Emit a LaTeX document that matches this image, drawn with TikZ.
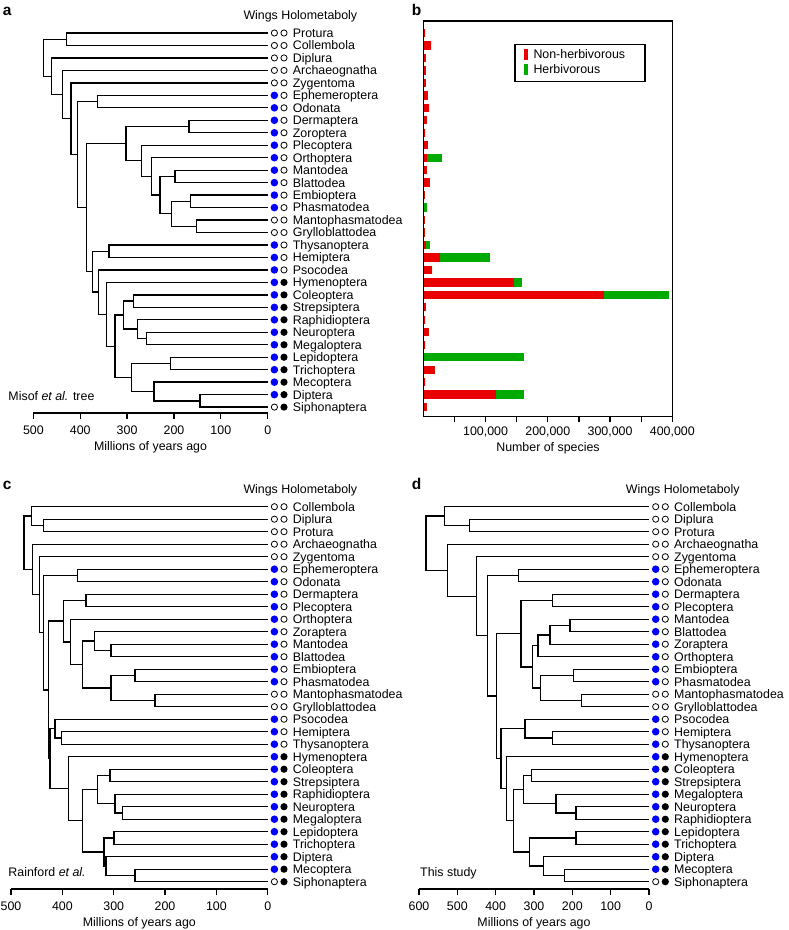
\documentclass[tikz,border=0pt]{standalone}
\usepackage{fontspec}
\setmainfont{Liberation Sans}
\usetikzlibrary{calc}

\definecolor{nonherb}{RGB}{235,0,0}
\definecolor{herb}{RGB}{0,170,0}
\definecolor{wingblue}{RGB}{0,0,255}

\newcommand{\figfont}{\fontsize{12.4}{14}\selectfont}
\newcommand{\panelfont}{\fontsize{15.5}{17}\selectfont\bfseries}

% tips of one tree: prefix, list of taxon/wings/holometaboly
\newcommand{\tips}[2]{%
  \foreach \tx/\w/\h [count=\i] in {#2} {
    \coordinate (#1\tx) at (\tipx, {\rowy+(\i-1)*\rowdy});
    \node[wings\w] (#1\tx-w) at ([xshift=6.7pt]#1\tx) {};
    \node[holo\h] (#1\tx-h) at ([xshift=16.3pt]#1\tx) {};
    \node[taxon] (#1\tx-l) at ([xshift=25pt,yshift=-4.4pt]#1\tx) {\tx};
  }%
}
% internal node: name, age (Ma), two children
\newcommand{\clade}[4]{%
  \pgfmathsetmacro\cx{\tipx-#2*\tscale}%
  \path let \p1=($(#3)!.5!(#4)$) in (\cx pt,\y1) coordinate (#1);
  \draw[branch] (#1) |- (#3) (#1) |- (#4);
}
% time axis: prefix, oldest tick, y
\newcommand{\ageaxis}[3]{%
  \draw[axisline] ({\tipx-#2*\tscale},#3) -- (\tipx,#3);
  \foreach \m in {0,100,...,#2} {
    \draw[axisline] ({\tipx-\m*\tscale},#3) -- ++(0,6);
    \node[ticklab] (#1t\m) at ({\tipx-\m*\tscale},#3+21.4) {\m};
  }%
  \node[ticklab] (#1xlab) at ({\tipx-#2*\tscale/2},#3+37) {Millions of years ago};
}

\begin{document}
\begin{tikzpicture}[x=1pt, y=-1pt,
  branch/.style={line width=1.35pt},
  axisline/.style={line width=1.2pt},
  frame/.style={line width=1.2pt},
  opendot/.style={circle, draw, line width=0.8pt, minimum size=6.2pt, inner sep=0pt},
  wings0/.style={opendot},
  wings1/.style={circle, fill=wingblue, minimum size=7.6pt, inner sep=0pt},
  holo0/.style={opendot},
  holo1/.style={circle, fill=black, minimum size=7.2pt, inner sep=0pt},
  taxon/.style={anchor=base west, inner sep=0pt, font=\figfont},
  ticklab/.style={anchor=base, inner sep=0pt, font=\figfont},
  panel/.style={anchor=base west, inner sep=0pt, font=\panelfont}
]
\useasboundingbox (0,0) rectangle (788,930);

% a: Misof et al.
\def\tipx{267.7}\def\tscale{0.4687}\def\rowy{33}\def\rowdy{12.47}
\node[panel] (apanel) at (2.7,15) {a};
\node[taxon] (ahead) at (243.3,19.3) {Wings Holometaboly};
\tips{a}{Protura/0/0, Collembola/0/0, Diplura/0/0, Archaeognatha/0/0, Zygentoma/0/0,
  Ephemeroptera/1/0, Odonata/1/0, Dermaptera/1/0, Zoroptera/1/0, Plecoptera/1/0,
  Orthoptera/1/0, Mantodea/1/0, Blattodea/1/0, Embioptera/1/0, Phasmatodea/1/0,
  Mantophasmatodea/0/0, Grylloblattodea/0/0, Thysanoptera/1/0, Hemiptera/1/0, Psocodea/1/0,
  Hymenoptera/1/1, Coleoptera/1/1, Strepsiptera/1/1, Raphidioptera/1/1, Neuroptera/1/1,
  Megaloptera/1/1, Lepidoptera/1/1, Trichoptera/1/1, Mecoptera/1/1, Diptera/1/1, Siphonaptera/0/1}
\clade{aProCol}{429}{aProtura}{aCollembola}
\clade{aDermZor}{168}{aDermaptera}{aZoroptera}
\clade{aMantBlatt}{198}{aMantodea}{aBlattodea}
\clade{aEmbPhas}{164.3}{aEmbioptera}{aPhasmatodea}
\clade{aMantGryl}{151.5}{aMantophasmatodea}{aGrylloblattodea}
\clade{aEPMG}{205}{aEmbPhas}{aMantGryl}
\clade{aDicRest}{230}{aMantBlatt}{aEPMG}
\clade{aOrthRest}{247.5}{aOrthoptera}{aDicRest}
\clade{aPlecRest}{269}{aPlecoptera}{aOrthRest}
\clade{aPolyneo}{302}{aDermZor}{aPlecRest}
\clade{aThyHem}{338.6}{aThysanoptera}{aHemiptera}
\clade{aColStrep}{286.8}{aColeoptera}{aStrepsiptera}
\clade{aNeurMeg}{258.2}{aNeuroptera}{aMegaloptera}
\clade{aNeuropt}{277.4}{aRaphidioptera}{aNeurMeg}
\clade{aColNeur}{308}{aColStrep}{aNeuropt}
\clade{aLepTri}{207}{aLepidoptera}{aTrichoptera}
\clade{aDipSiph}{144.4}{aDiptera}{aSiphonaptera}
\clade{aAntlio}{242.6}{aMecoptera}{aDipSiph}
\clade{aMecopt}{290.2}{aLepTri}{aAntlio}
\clade{aAparag}{325.8}{aColNeur}{aMecopt}
\clade{aHolomet}{343.5}{aHymenoptera}{aAparag}
\clade{aPsocHolo}{361.4}{aPsocodea}{aHolomet}
\clade{aEumet}{373.4}{aThyHem}{aPsocHolo}
\clade{aNeopt}{386.2}{aPolyneo}{aEumet}
\clade{aEphOdo}{362.7}{aEphemeroptera}{aOdonata}
\clade{aPteryg}{405.4}{aEphOdo}{aNeopt}
\clade{aDicond}{419.7}{aZygentoma}{aPteryg}
\clade{aInsect}{438.2}{aArchaeognatha}{aDicond}
\clade{aEnto}{460.9}{aDiplura}{aInsect}
\clade{aRoot}{478.8}{aProCol}{aEnto}
\node[taxon] (aname) at (8.3,400.7) {Misof \textit{et al.} tree};
\ageaxis{a}{500}{413}

% b: species numbers
\node[panel] (bpanel) at (411.7,15) {b};
\foreach \nh/\hb [count=\i] in {3.5/0, 12.4/0, 4.3/0, 3.7/0, 3.7/0, 7/0, 9.6/0, 5.4/0, 3.2/0, 7/0,
    5.4/24, 5.4/0, 10.7/0, 2.7/0, 0/6.4, 2.7/0, 2.7/0, 4.3/6.4, 26.8/80.2, 14.5/0,
    145.7/12.8, 290/104, 3.7/0, 3.2/0, 9.1/0, 3.2/0, 0/161.7, 18.2/0, 3.2/0, 116.7/45, 5.4/0} {
  \pgfmathsetmacro\by{33+(\i-1)*12.47}
  \fill[nonherb] (423.3,\by-4.15) rectangle ++({\nh*0.6225},8.3);
  \fill[herb] ({423.3+\nh*0.6225},\by-4.15) rectangle ++({\hb*0.6225},8.3);
}
\draw[frame] (423.3,21) rectangle (672.7,416.7);
\foreach \k in {50,100,...,400}
  \draw[axisline] ({423.3+\k*0.6225},416.7) -- ++(0,5);
\foreach \k in {100,200,300,400}
  \node[ticklab] (bt\k) at ({423.3+\k*0.6225},435.4) {\k,000};
\node[ticklab] (bxlab) at (548,451) {Number of species};
\draw[frame] (515,44.3) rectangle (645,81.7);
\fill[nonherb] (524,49) rectangle (528,60);
\fill[herb] (524,64) rectangle (528,75);
\node[taxon] (bnonherb) at (533.3,58.3) {Non-herbivorous};
\node[taxon] (bherb) at (533.3,73.3) {Herbivorous};

% c: Rainford et al.
\def\tipx{267.7}\def\tscale{0.5133}\def\rowy{506.7}\def\rowdy{12.5}
\node[panel] (cpanel) at (2.7,489.3) {c};
\node[taxon] (chead) at (243.3,493.7) {Wings Holometaboly};
\tips{c}{Collembola/0/0, Diplura/0/0, Protura/0/0, Archaeognatha/0/0, Zygentoma/0/0,
  Ephemeroptera/1/0, Odonata/1/0, Dermaptera/1/0, Plecoptera/1/0, Orthoptera/1/0,
  Zoraptera/1/0, Mantodea/1/0, Blattodea/1/0, Embioptera/1/0, Phasmatodea/1/0,
  Mantophasmatodea/0/0, Grylloblattodea/0/0, Psocodea/1/0, Hemiptera/1/0, Thysanoptera/1/0,
  Hymenoptera/1/1, Coleoptera/1/1, Strepsiptera/1/1, Raphidioptera/1/1, Neuroptera/1/1,
  Megaloptera/1/1, Lepidoptera/1/1, Trichoptera/1/1, Diptera/1/1, Mecoptera/1/1, Siphonaptera/0/1}
\clade{cDiPr}{437.2}{cDiplura}{cProtura}
\clade{cEnto}{459.8}{cCollembola}{cDiPr}
\clade{cEphOdo}{370}{cEphemeroptera}{cOdonata}
\clade{cDermPlec}{354}{cDermaptera}{cPlecoptera}
\clade{cMantBlatt}{305.3}{cMantodea}{cBlattodea}
\clade{cZorMB}{337.8}{cZoraptera}{cMantBlatt}
\clade{cEmbPhas}{258.5}{cEmbioptera}{cPhasmatodea}
\clade{cMantGryl}{219.6}{cMantophasmatodea}{cGrylloblattodea}
\clade{cEPMG}{305}{cEmbPhas}{cMantGryl}
\clade{cZMBEPMG}{360.4}{cZorMB}{cEPMG}
\clade{cOrthRest}{383.8}{cOrthoptera}{cZMBEPMG}
\clade{cPolyneo}{398}{cDermPlec}{cOrthRest}
\clade{cHemThy}{401.3}{cHemiptera}{cThysanoptera}
\clade{cParaneo}{414.4}{cPsocodea}{cHemThy}
\clade{cColStrep}{307.2}{cColeoptera}{cStrepsiptera}
\clade{cNeurMeg}{283.3}{cNeuroptera}{cMegaloptera}
\clade{cNeuropt}{297.5}{cRaphidioptera}{cNeurMeg}
\clade{cColNeur}{332}{cColStrep}{cNeuropt}
\clade{cLepTri}{299.4}{cLepidoptera}{cTrichoptera}
\clade{cMecSiph}{258.5}{cMecoptera}{cSiphonaptera}
\clade{cAntlio}{315}{cDiptera}{cMecSiph}
\clade{cMecopt}{319}{cLepTri}{cAntlio}
\clade{cAparag}{360.4}{cColNeur}{cMecopt}
\clade{cHolomet}{388.5}{cHymenoptera}{cAparag}
\clade{cEumet}{424}{cParaneo}{cHolomet}
\clade{cNeopt}{426.7}{cPolyneo}{cEumet}
\clade{cPteryg}{437.2}{cEphOdo}{cNeopt}
\clade{cDicond}{445}{cZygentoma}{cPteryg}
\clade{cInsect}{458.6}{cArchaeognatha}{cDicond}
\clade{cRoot}{474.8}{cEnto}{cInsect}
\node[taxon] (cname) at (8.3,876) {Rainford \textit{et al.}};
\ageaxis{c}{500}{889}

% d: this study
\def\tipx{649}\def\tscale{0.38333}\def\rowy{506.7}\def\rowdy{12.5}
\node[panel] (dpanel) at (411.7,489.3) {d};
\node[taxon] (dhead) at (625.7,493.7) {Wings Holometaboly};
\tips{d}{Collembola/0/0, Diplura/0/0, Protura/0/0, Archaeognatha/0/0, Zygentoma/0/0,
  Ephemeroptera/1/0, Odonata/1/0, Dermaptera/1/0, Plecoptera/1/0, Mantodea/1/0,
  Blattodea/1/0, Zoraptera/1/0, Orthoptera/1/0, Embioptera/1/0, Phasmatodea/1/0,
  Mantophasmatodea/0/0, Grylloblattodea/0/0, Psocodea/1/0, Hemiptera/1/0, Thysanoptera/1/0,
  Hymenoptera/1/1, Coleoptera/1/1, Strepsiptera/1/1, Megaloptera/1/1, Neuroptera/1/1,
  Raphidioptera/1/1, Lepidoptera/1/1, Trichoptera/1/1, Diptera/1/1, Mecoptera/1/1, Siphonaptera/0/1}
\clade{dDiPr}{468.8}{dDiplura}{dProtura}
\clade{dEnto}{534}{dCollembola}{dDiPr}
\clade{dEphOdo}{340.9}{dEphemeroptera}{dOdonata}
\clade{dDermPlec}{252.2}{dDermaptera}{dPlecoptera}
\clade{dMantBlatt}{206}{dMantodea}{dBlattodea}
\clade{dMBZor}{258}{dMantBlatt}{dZoraptera}
\clade{dMBZO}{290}{dMBZor}{dOrthoptera}
\clade{dEmbPhas}{197.4}{dEmbioptera}{dPhasmatodea}
\clade{dMantGryl}{175.7}{dMantophasmatodea}{dGrylloblattodea}
\clade{dEPMG}{282.5}{dEmbPhas}{dMantGryl}
\clade{dPolyRest}{303.5}{dMBZO}{dEPMG}
\clade{dPolyneo}{334}{dDermPlec}{dPolyRest}
\clade{dHemThy}{252}{dHemiptera}{dThysanoptera}
\clade{dParaneo}{323.5}{dPsocodea}{dHemThy}
\clade{dColStrep}{306}{dColeoptera}{dStrepsiptera}
\clade{dNeurRaph}{190.4}{dNeuroptera}{dRaphidioptera}
\clade{dNeuropt}{242.6}{dMegaloptera}{dNeurRaph}
\clade{dColNeur}{328}{dColStrep}{dNeuropt}
\clade{dLepTri}{190.4}{dLepidoptera}{dTrichoptera}
\clade{dMecSiph}{221}{dMecoptera}{dSiphonaptera}
\clade{dAntlio}{275.7}{dDiptera}{dMecSiph}
\clade{dMecopt}{312}{dLepTri}{dAntlio}
\clade{dAparag}{354}{dColNeur}{dMecopt}
\clade{dHolomet}{371}{dHymenoptera}{dAparag}
\clade{dEumet}{386}{dParaneo}{dHolomet}
\clade{dNeopt}{397.4}{dPolyneo}{dEumet}
\clade{dPteryg}{421}{dEphOdo}{dNeopt}
\clade{dDicond}{449.6}{dZygentoma}{dPteryg}
\clade{dInsect}{525.2}{dArchaeognatha}{dDicond}
\clade{dRoot}{581.7}{dEnto}{dInsect}
\node[taxon] (dname) at (420,876) {This study};
\ageaxis{d}{600}{889}
\end{tikzpicture}
\end{document}
